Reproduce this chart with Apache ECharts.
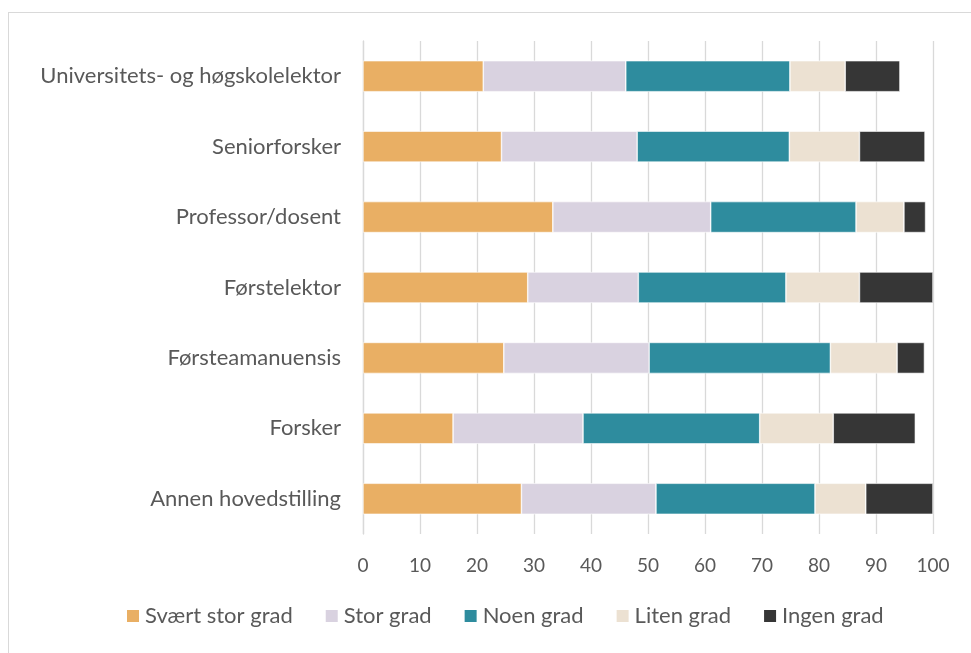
<!DOCTYPE html>
<html>
<head>
    <meta charset="UTF-8">
    <title>Stillingskategorier</title>
    <style>
        html, body { margin: 0; padding: 0; background: white; }
        #frame {
            position: absolute;
            left: 8px;
            top: 12px;
            width: 1000px;
            height: 700px;
            border-left: 1px solid #d9d9d9;
            border-top: 1px solid #d9d9d9;
        }
        #chart {
            position: absolute;
            left: 0;
            top: 0;
            width: 971px;
            height: 653px;
        }
    </style>
    <script src="https://cdn.jsdelivr.net/npm/echarts@6/dist/echarts.min.js"></script>
</head>
<body>
    <div id="frame"></div>
    <div id="chart"></div>
<script>
    // kategorier, nederst først (y-aksen tegnes nedenfra)
    var categories = ['Annen hovedstilling', 'Forsker', 'Førsteamanuensis', 'Førstelektor',
                      'Professor/dosent', 'Seniorforsker', 'Universitets- og høgskolelektor'];

    var svaertStor = [27.8, 15.8, 24.7, 28.9, 33.3, 24.3, 21.1];
    var stor       = [23.6, 22.8, 25.5, 19.4, 27.7, 23.8, 25.0];
    var noen       = [27.9, 31.0, 31.8, 25.9, 25.5, 26.7, 28.8];
    var liten      = [8.9, 12.9, 11.7, 12.9, 8.4, 12.3, 9.7];
    var ingen      = [11.8, 14.4, 4.8, 12.9, 3.8, 11.5, 9.6];

    var seriesNames = ['Svært stor grad', 'Stor grad', 'Noen grad', 'Liten grad', 'Ingen grad'];
    var seriesData = [svaertStor, stor, noen, liten, ingen];
    var colors = ['#E9AF64', '#D9D2E0', '#2E8C9E', '#ECE1D2', '#363636'];

    var font = 'Lato, "Open Sans", sans-serif';
    var chart = echarts.init(document.getElementById('chart'));

    var series = [];
    for (var i = 0; i < seriesNames.length; i++) {
        series.push({
            name: seriesNames[i],
            type: 'bar',
            stack: 'total',
            barWidth: 31,
            data: seriesData[i],
            itemStyle: { color: colors[i], borderColor: '#ffffff', borderWidth: 0.6 }
        });
    }

    var option = {
        backgroundColor: 'transparent',
        animation: false,
        color: colors,
        grid: {
            left: 363,
            right: 38,
            top: 41,
            bottom: 119
        },
        legend: {
            bottom: 21,
            left: 120,
            itemWidth: 14,
            itemHeight: 14,
            itemGap: 31,
            icon: 'rect',
            textStyle: { color: '#595959', fontSize: 22, fontFamily: font },
            data: seriesNames
        },
        xAxis: {
            type: 'value',
            min: 0,
            max: 100,
            interval: 10,
            axisLine: { show: false },
            axisTick: { show: false },
            splitLine: { lineStyle: { color: '#d9d9d9', width: 1.3 } },
            axisLabel: { color: '#595959', fontSize: 19, fontFamily: font, margin: 22 }
        },
        yAxis: {
            type: 'category',
            data: categories,
            axisLine: { show: true, lineStyle: { color: '#d9d9d9', width: 1.3 } },
            axisTick: { show: false },
            axisLabel: { color: '#595959', fontSize: 22, fontFamily: font, margin: 22 }
        },
        series: series
    };
    chart.setOption(option);
</script>
</body>
</html>
